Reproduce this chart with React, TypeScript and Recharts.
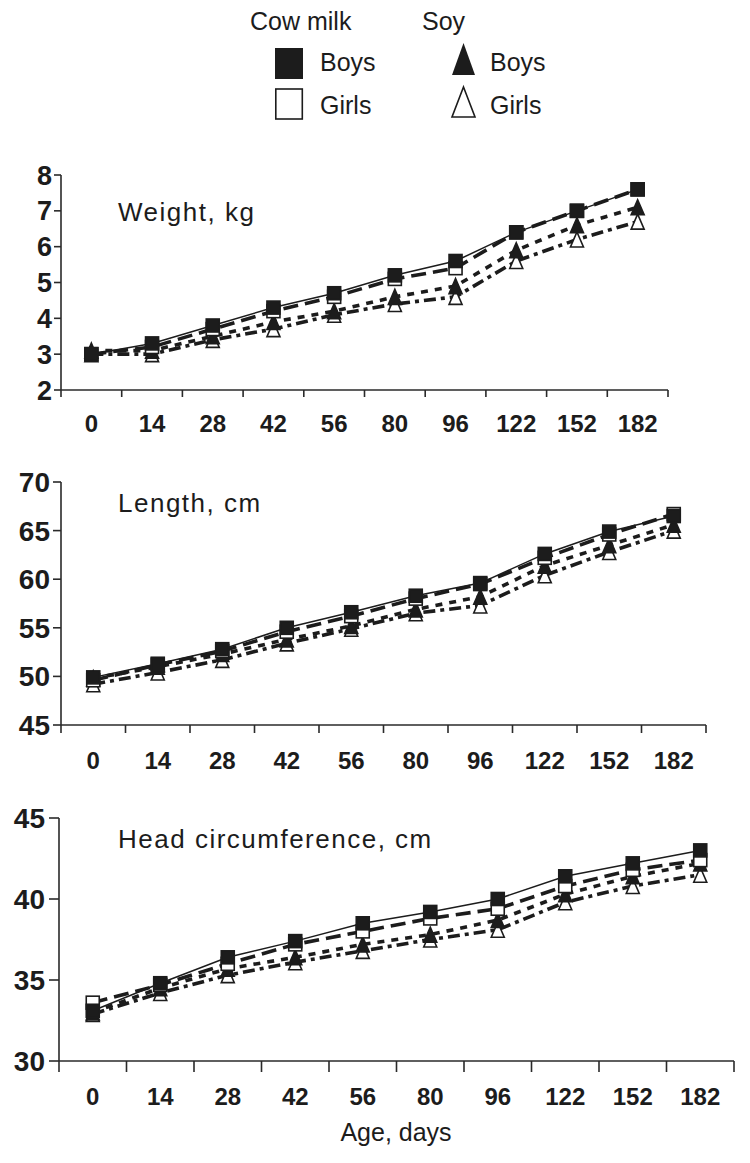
import React from 'react';
import { LineChart, Line, XAxis, YAxis } from 'recharts';

// ---------- data ----------
const ages = ['0', '14', '28', '42', '56', '80', '96', '122', '152', '182'];

const weightCowBoys = [3.0, 3.3, 3.8, 4.3, 4.7, 5.2, 5.6, 6.4, 7.0, 7.6];
const weightCowGirls = [3.0, 3.2, 3.7, 4.2, 4.6, 5.1, 5.4, 6.4, 7.0, 7.6];
const weightSoyBoys = [3.1, 3.1, 3.5, 3.9, 4.2, 4.6, 4.9, 5.9, 6.6, 7.1];
const weightSoyGirls = [3.0, 3.0, 3.4, 3.7, 4.1, 4.4, 4.6, 5.6, 6.2, 6.7];

const lengthCowBoys = [49.9, 51.3, 52.8, 55.0, 56.6, 58.3, 59.6, 62.6, 64.9, 66.5];
const lengthCowGirls = [49.6, 51.2, 52.6, 54.6, 56.2, 58.0, 59.5, 62.2, 64.6, 66.7];
const lengthSoyBoys = [49.8, 51.0, 52.3, 53.8, 55.2, 56.9, 58.2, 61.4, 63.5, 65.6];
const lengthSoyGirls = [49.2, 50.4, 51.7, 53.4, 54.9, 56.5, 57.3, 60.4, 62.8, 65.0];

const headCowBoys = [33.1, 34.8, 36.4, 37.4, 38.5, 39.2, 40.0, 41.4, 42.2, 43.0];
const headCowGirls = [33.6, 34.7, 36.0, 37.2, 38.0, 38.8, 39.4, 40.8, 41.8, 42.4];
const headSoyBoys = [33.0, 34.5, 35.7, 36.4, 37.2, 37.8, 38.7, 40.3, 41.4, 42.2];
const headSoyGirls = [32.9, 34.2, 35.3, 36.1, 36.8, 37.5, 38.1, 39.8, 40.8, 41.5];

const weightTicks = [2, 3, 4, 5, 6, 7, 8];
const lengthTicks = [45, 50, 55, 60, 65, 70];
const headTicks = [30, 35, 40, 45];

const titles = ['Weight, kg', 'Length, cm', 'Head circumference, cm'];
const xAxisTitle = 'Age, days';
const legendGroups = ['Cow milk', 'Soy'];
const legendItems = ['Boys', 'Girls'];

// ---------- styling ----------
const INK = '#1c1c1c';
const AXIS = '#2a2a2a';
const FONT = '"Liberation Sans", Arial, Helvetica, sans-serif';

const buildData = (cb: number[], cg: number[], sb: number[], sg: number[]) =>
  ages.map((a, i) => ({ pos: i + 0.5, age: a, cowBoys: cb[i], cowGirls: cg[i], soyBoys: sb[i], soyGirls: sg[i] }));

const xTicks = ages.flatMap((_, i) => [i, i + 0.5]).concat([ages.length]);

const makeXTick = (tickLen: number, labelBaseline: number, fontSize: number) => (props: any) => {
  const { x, y, payload } = props;
  const v = payload.value;
  if (Number.isInteger(v)) {
    return <line x1={x} x2={x} y1={y} y2={y + tickLen} stroke={AXIS} strokeWidth={1.6} />;
  }
  return (
    <text x={x} y={y + labelBaseline} textAnchor="middle" fontFamily={FONT} fontWeight="bold" fontSize={fontSize} fill={INK}>
      {ages[Math.floor(v)]}
    </text>
  );
};

const makeSquare = (filled: boolean) => (props: any) => {
  const { cx, cy, index } = props;
  if (cx == null || cy == null) return <g key={`s${index}`} />;
  const s = 13;
  return (
    <rect key={`s${index}`} x={cx - s / 2} y={cy - s / 2} width={s} height={s}
      fill={filled ? INK : '#ffffff'} stroke={INK} strokeWidth={1.6} strokeDasharray="none" />
  );
};

const makeTriangle = (filled: boolean) => (props: any) => {
  const { cx, cy, index } = props;
  if (cx == null || cy == null) return <g key={`t${index}`} />;
  const w = 13, h = 15;
  const pts = `${cx},${cy - h / 2} ${cx + w / 2},${cy + h / 2} ${cx - w / 2},${cy + h / 2}`;
  return (
    <polygon key={`t${index}`} points={pts} fill={filled ? INK : '#ffffff'} stroke={INK}
      strokeWidth={1.6} strokeDasharray="none" strokeLinejoin="miter" />
  );
};

type PanelProps = {
  top: number; height: number; marginTop: number; xAxisHeight: number;
  marginLeft: number; marginRight: number; data: any[]; domain: [number, number]; ticks: number[];
  yTickSize: number; yTickMargin: number; yFont: number; xTickLen: number; xLabelBaseline: number;
};

function Panel(p: PanelProps) {
  return (
    <div style={{ position: 'absolute', left: 0, top: p.top, width: 750, height: p.height }}>
      <LineChart width={750} height={p.height} data={p.data}
        margin={{ top: p.marginTop, right: p.marginRight, bottom: 0, left: p.marginLeft }}>
        <XAxis dataKey="pos" type="number" domain={[0, ages.length]} ticks={xTicks} interval={0}
          height={p.xAxisHeight} tickLine={false} tickSize={0} tickMargin={0}
          axisLine={{ stroke: AXIS, strokeWidth: 1.6 }} tick={makeXTick(p.xTickLen, p.xLabelBaseline, 24)}
          allowDataOverflow />
        <YAxis type="number" domain={p.domain} ticks={p.ticks} interval={0} width={50}
          tickSize={p.yTickSize} tickMargin={p.yTickMargin}
          tickLine={{ stroke: AXIS, strokeWidth: 1.6 }} axisLine={{ stroke: AXIS, strokeWidth: 1.6 }}
          tick={{ fill: INK, fontSize: p.yFont, fontWeight: 'bold', fontFamily: FONT }} allowDataOverflow />
        <Line dataKey="soyGirls" stroke={INK} strokeWidth={3.6} strokeDasharray="12 5 4 5"
          dot={makeTriangle(false)} isAnimationActive={false} />
        <Line dataKey="soyBoys" stroke={INK} strokeWidth={3.6} strokeDasharray="7 7"
          dot={makeTriangle(true)} isAnimationActive={false} />
        <Line dataKey="cowGirls" stroke={INK} strokeWidth={3.6} strokeDasharray="15 7"
          dot={makeSquare(false)} isAnimationActive={false} />
        <Line dataKey="cowBoys" stroke={INK} strokeWidth={1.5}
          dot={makeSquare(true)} isAnimationActive={false} />
      </LineChart>
    </div>
  );
}

function Overlay() {
  const txt = { fontFamily: FONT, fontSize: 25, fill: INK } as const;
  const ttl = { fontFamily: FONT, fontSize: 26, fill: INK, letterSpacing: 1.5 } as const;
  return (
    <svg width={750} height={1163} style={{ position: 'absolute', left: 0, top: 0, pointerEvents: 'none' }}>
      {/* legend */}
      <text x={250} y={30} {...txt}>{legendGroups[0]}</text>
      <text x={422} y={30} {...txt}>{legendGroups[1]}</text>
      <rect x={275} y={48} width={28} height={31} fill={INK} />
      <rect x={275.8} y={89} width={26.5} height={30} fill="#fff" stroke={INK} strokeWidth={1.6} />
      <text x={320} y={71} {...txt}>{legendItems[0]}</text>
      <text x={320} y={114} {...txt}>{legendItems[1]}</text>
      <polygon points="463.5,43 475,75 452,75" fill={INK} />
      <polygon points="463.5,87 475,117 452,117" fill="#fff" stroke={INK} strokeWidth={1.6} />
      <text x={490} y={71} {...txt}>{legendItems[0]}</text>
      <text x={490} y={114} {...txt}>{legendItems[1]}</text>
      {/* panel titles */}
      <text x={118} y={221} {...ttl}>{titles[0]}</text>
      <text x={118} y={512} {...ttl}>{titles[1]}</text>
      <text x={118} y={848} {...ttl}>{titles[2]}</text>
      {/* x axis title */}
      <text x={396} y={1141} textAnchor="middle" {...txt}>{xAxisTitle}</text>
    </svg>
  );
}

export default function App() {
  const weightData = buildData(weightCowBoys, weightCowGirls, weightSoyBoys, weightSoyGirls);
  const lengthData = buildData(lengthCowBoys, lengthCowGirls, lengthSoyBoys, lengthSoyGirls);
  const headData = buildData(headCowBoys, headCowGirls, headSoyBoys, headSoyGirls);
  return (
    <div style={{ position: 'absolute', left: 0, top: 0, width: 750, height: 1163, background: '#fff', overflow: 'hidden' }}>
      <Panel top={150} height={300} marginTop={25} xAxisHeight={60} marginLeft={11} marginRight={82}
        data={weightData} domain={[2, 8]} ticks={weightTicks} yTickSize={7} yTickMargin={2} yFont={27}
        xTickLen={7} xLabelBaseline={42} />
      <Panel top={455} height={320} marginTop={27} xAxisHeight={50} marginLeft={11} marginRight={44}
        data={lengthData} domain={[45, 70]} ticks={lengthTicks} yTickSize={8} yTickMargin={3} yFont={28}
        xTickLen={8} xLabelBaseline={43.5} />
      <Panel top={790} height={330} marginTop={28} xAxisHeight={59} marginLeft={9} marginRight={16}
        data={headData} domain={[30, 45]} ticks={headTicks} yTickSize={10} yTickMargin={4} yFont={28}
        xTickLen={11} xLabelBaseline={43.5} />
      <Overlay />
    </div>
  );
}
